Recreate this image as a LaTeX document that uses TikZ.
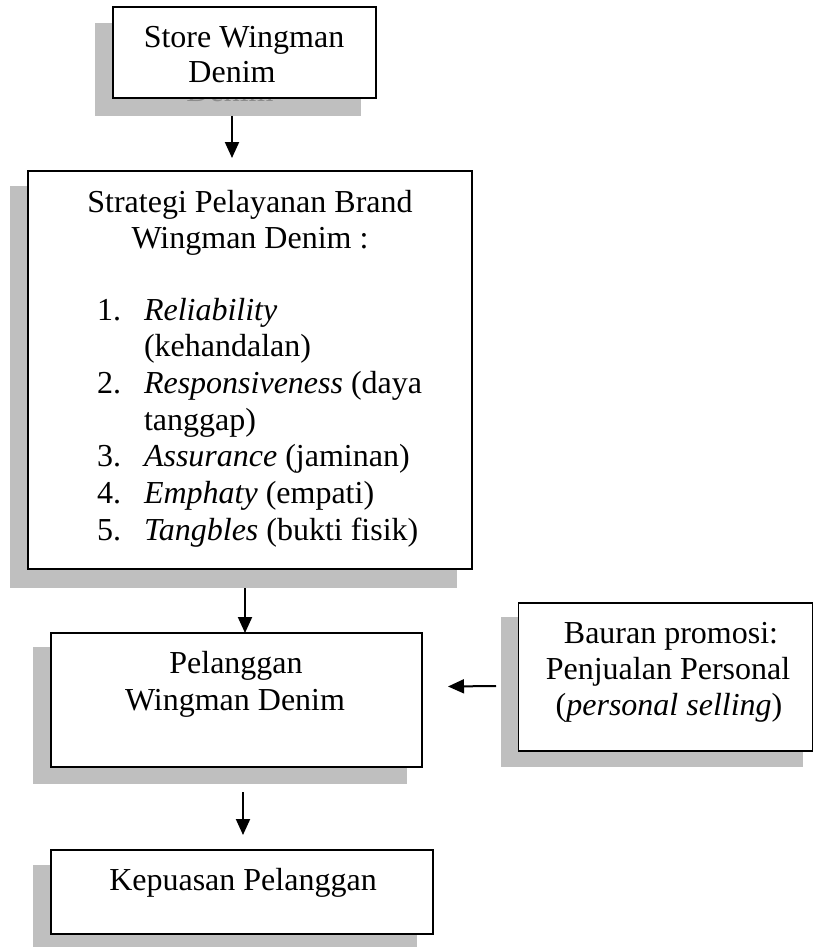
\documentclass[tikz,border=0pt]{standalone}
\usepackage{fontspec}
\setmainfont{Liberation Serif}
\usetikzlibrary{arrows.meta}
\begin{document}
\begin{tikzpicture}[x=1pt,y=-1pt,
  shade/.style={fill=black!25},
  box/.style={draw=black, line width=1.6pt, fill=white, inner sep=0pt, outer sep=0pt, anchor=north west},
  txt/.style={font=\fontsize{32}{36.8}\selectfont, inner sep=0pt, outer sep=0pt},
  ghost/.style={txt, text=black!45},
  arr/.style={line width=2pt, -{Triangle[width=14pt,length=16pt]}}]
\useasboundingbox (0,0) rectangle (814,947);
% shadows
\fill[shade] (95,23) rectangle (361,116);
\begin{scope}
\clip (95,99) rectangle (361,116);
\node[ghost, anchor=base] (ghostdenim) at (230,102) {Denim};
\end{scope}
\fill[shade] (10,186) rectangle (457,588);
\fill[shade] (33,647) rectangle (407,784);
\fill[shade] (501,617) rectangle (803,767);
\fill[shade] (33,865) rectangle (417,947);
% boxes
\node[box, minimum width=263pt, minimum height=91pt] (store) at (113,7) {};
\node[box, minimum width=444pt, minimum height=398pt] (strat) at (28,171) {};
\node[box, minimum width=371pt, minimum height=134pt] (pel) at (51,633) {};
\node[box, minimum width=294pt, minimum height=148pt] (baur) at (518.5,603) {};
\node[box, minimum width=382pt, minimum height=84pt] (kep) at (51,850) {};
% texts
\node[txt, anchor=base] (t1a) at (244,48) {Store Wingman};
\node[txt, anchor=base] (t1b) at (232,83) {Denim};
\node[txt, anchor=base] (t2a) at (250,212) {Strategi Pelayanan Brand};
\node[txt, anchor=base] (t2b) at (250,248) {Wingman Denim :};
\node[txt, anchor=base west] (n1) at (97,320) {1.};
\node[txt, anchor=base west] (i1a) at (144,320) {\textit{Reliability}};
\node[txt, anchor=base west] (i1b) at (144,356.7) {(kehandalan)};
\node[txt, anchor=base west] (n2) at (97,393.4) {2.};
\node[txt, anchor=base west] (i2a) at (144,393.4) {\textit{Responsiveness} (daya};
\node[txt, anchor=base west] (i2b) at (144,430) {tanggap)};
\node[txt, anchor=base west] (n3) at (97,466.8) {3.};
\node[txt, anchor=base west] (i3) at (144,466.8) {\textit{Assurance} (jaminan)};
\node[txt, anchor=base west] (n4) at (97,503.5) {4.};
\node[txt, anchor=base west] (i4) at (144,503.5) {\textit{Emphaty} (empati)};
\node[txt, anchor=base west] (n5) at (97,540.2) {5.};
\node[txt, anchor=base west] (i5) at (144,540.2) {\textit{Tangbles} (bukti fisik)};
\node[txt, anchor=base] (t3a) at (236,673) {Pelanggan};
\node[txt, anchor=base] (t3b) at (235,710) {Wingman Denim};
\node[txt, anchor=base] (t4a) at (671,643) {Bauran promosi:};
\node[txt, anchor=base] (t4b) at (668,679) {Penjualan Personal};
\node[txt, anchor=base] (t4c) at (669,715) {(\textit{personal selling})};
\node[txt, anchor=base] (t5) at (243,890) {Kepuasan Pelanggan};
% connectors
\coordinate (a1s) at (232,116);
\coordinate (a2s) at (245,588);
\coordinate (a3s) at (496,686);
\coordinate (a3e) at (448,686.5);
\coordinate (a4s) at (243,792);
\draw[arr] (a1s) -- ([yshift=13pt]a1s |- strat.north);
\draw[arr] (a2s) -- (a2s |- pel.north);
\draw[arr] (a3s) -- (a3e);
\draw[arr] (a4s) -- ([yshift=15pt]a4s |- kep.north);
\end{tikzpicture}
\end{document}
